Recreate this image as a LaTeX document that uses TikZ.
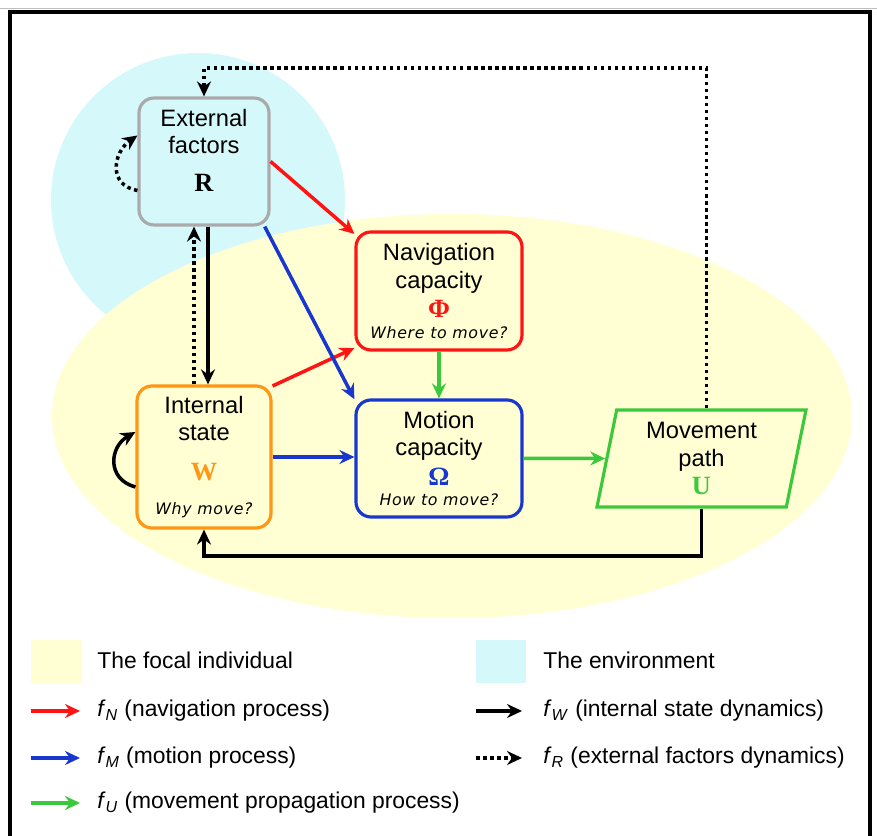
\documentclass[tikz,border=0pt]{standalone}
\usepackage{fontspec}
\setmainfont{Liberation Sans}
\newfontfamily\symfont{Liberation Serif}
\newfontfamily\askfont[LetterSpace=4]{DejaVu Sans}
\usetikzlibrary{arrows.meta,shapes.geometric}

\definecolor{envcyan}{RGB}{213,249,251}
\definecolor{indyellow}{RGB}{255,255,211}
\definecolor{navred}{RGB}{255,20,20}
\definecolor{motblue}{RGB}{25,55,205}
\definecolor{pathgreen}{RGB}{60,200,60}
\definecolor{stateorange}{RGB}{255,150,20}
\definecolor{extgray}{RGB}{170,170,170}

\tikzset{
  procbox/.style={draw, rounded corners=0.3cm, line width=1.8pt, align=center,
    inner sep=2pt, font=\fontsize{13.5}{15.5}\selectfont},
  flow/.style={line width=2pt, -{Stealth[length=3mm,width=2.8mm,inset=1mm]}},
  dotflow/.style={flow, dash pattern=on 2pt off 2pt},
  legtext/.style={anchor=west, inner sep=0pt, font=\fontsize{13}{15}\selectfont},
}

\newcommand{\symb}[2]{{\color{#1}\symfont\bfseries\fontsize{15}{15}\selectfont #2}}
\newcommand{\ask}[1]{{\askfont\itshape\fontsize{9}{11}\selectfont #1}}
\newcommand{\fsub}[1]{\textit{f}\textsubscript{\textit{#1}}}

\begin{document}
\begin{tikzpicture}
\useasboundingbox (0,0) rectangle (17.54,16.72);

% environment and individual
\fill[envcyan] (3.96,12.72) circle (2.94);
\fill[indyellow] (9.04,8.40) ellipse (8.0 and 4.04);

% frame
\draw[gray!50, line width=0.4pt] (0,16.56) -- (17.54,16.56);
\draw[line width=2.6pt] (0.2,-0.1) -- (0.2,16.48) -- (17.4,16.48) -- (17.4,-0.1);

% components
\node[procbox, draw=extgray, fill=envcyan, minimum width=2.6cm, minimum height=2.54cm,
  text depth=0.44cm] (ext) at (4.08,13.49) {External\\factors\\[6pt]\symb{black}{R}};
\node[procbox, draw=navred, minimum width=3.32cm, minimum height=2.36cm] (nav) at (8.78,10.90)
  {Navigation\\capacity\\[1pt]\symb{navred}{Φ}\\[-3.5pt]\ask{Where to move?}};
\node[procbox, draw=motblue, minimum width=3.32cm, minimum height=2.34cm] (mot) at (8.78,7.55)
  {Motion\\capacity\\[1.5pt]\symb{motblue}{Ω}\\[-4pt]\ask{How to move?}};
\node[procbox, draw=stateorange, minimum width=2.68cm, minimum height=2.84cm] (int) at (4.08,7.58)
  {Internal\\state\\[7pt]\symb{stateorange}{W}\\[4pt]\ask{Why move?}};
\node[procbox, draw=pathgreen, sharp corners, trapezium, trapezium left angle=76,
  trapezium right angle=104, trapezium stretches body, minimum width=4.18cm,
  minimum height=1.94cm] (mov) at (14.03,7.55) {Movement\\path\\[0.5pt]\symb{pathgreen}{U}};

\coordinate (topline) at (4.08,15.36);
\coordinate (botline) at (4.08,5.6);

% processes
\draw[flow, navred] (ext.east) -- (nav.146);
\draw[flow, navred] (int.46) -- (nav.214);
\draw[flow, motblue] (ext.-47) -- (mot.145);
\draw[flow, motblue] (int.east) -- (mot.west |- int.east);
\draw[flow, pathgreen] (nav.south) -- (mot.north);
\draw[flow, pathgreen] (mot.east) -- (mov.west);

% dynamics
\draw[flow] ([xshift=0.08cm]ext.south) -- ([xshift=0.08cm]int.north);
\draw[dotflow] ([xshift=-0.2cm]int.north) -- ([xshift=-0.2cm]ext.south);
\draw[flow] (mov.south) |- (botline) -- (int.south);
\draw[dotflow] ([xshift=0.1cm]mov.north) |- (topline) -- (ext.north);
\draw[dotflow] ([yshift=-0.58cm]ext.west) to[out=170,in=215,looseness=1.4] ([yshift=0.52cm]ext.west);
\draw[flow] ([yshift=-0.6cm]int.west) to[out=165,in=210,looseness=1.4] ([yshift=0.5cm]int.west);

% legend
\fill[indyellow] (0.62,3.06) rectangle (1.64,3.92);
\fill[envcyan] (9.52,3.06) rectangle (10.52,3.92);
\node[legtext] (lfoc) at (1.94,3.52) {The focal individual};
\node[legtext] (lenv) at (10.86,3.52) {The environment};
\node[legtext] (lnav) at (1.94,2.50) {\fsub{N} (navigation process)};
\node[legtext] (lmot) at (1.94,1.56) {\fsub{M} (motion process)};
\node[legtext] (lpro) at (1.94,0.66) {\fsub{U} (movement propagation process)};
\node[legtext] (lint) at (10.86,2.50) {\fsub{W} (internal state dynamics)};
\node[legtext] (lext) at (10.86,1.56) {\fsub{R} (external factors dynamics)};

\draw[flow, navred] ([xshift=-1.32cm]lnav.west) -- ([xshift=-0.34cm]lnav.west);
\draw[flow, motblue] ([xshift=-1.32cm]lmot.west) -- ([xshift=-0.34cm]lmot.west);
\draw[flow, pathgreen] ([xshift=-1.32cm]lpro.west) -- ([xshift=-0.34cm]lpro.west);
\draw[flow] ([xshift=-1.34cm]lint.west) -- ([xshift=-0.42cm]lint.west);
\draw[dotflow] ([xshift=-1.34cm]lext.west) -- ([xshift=-0.42cm]lext.west);

\end{tikzpicture}
\end{document}
